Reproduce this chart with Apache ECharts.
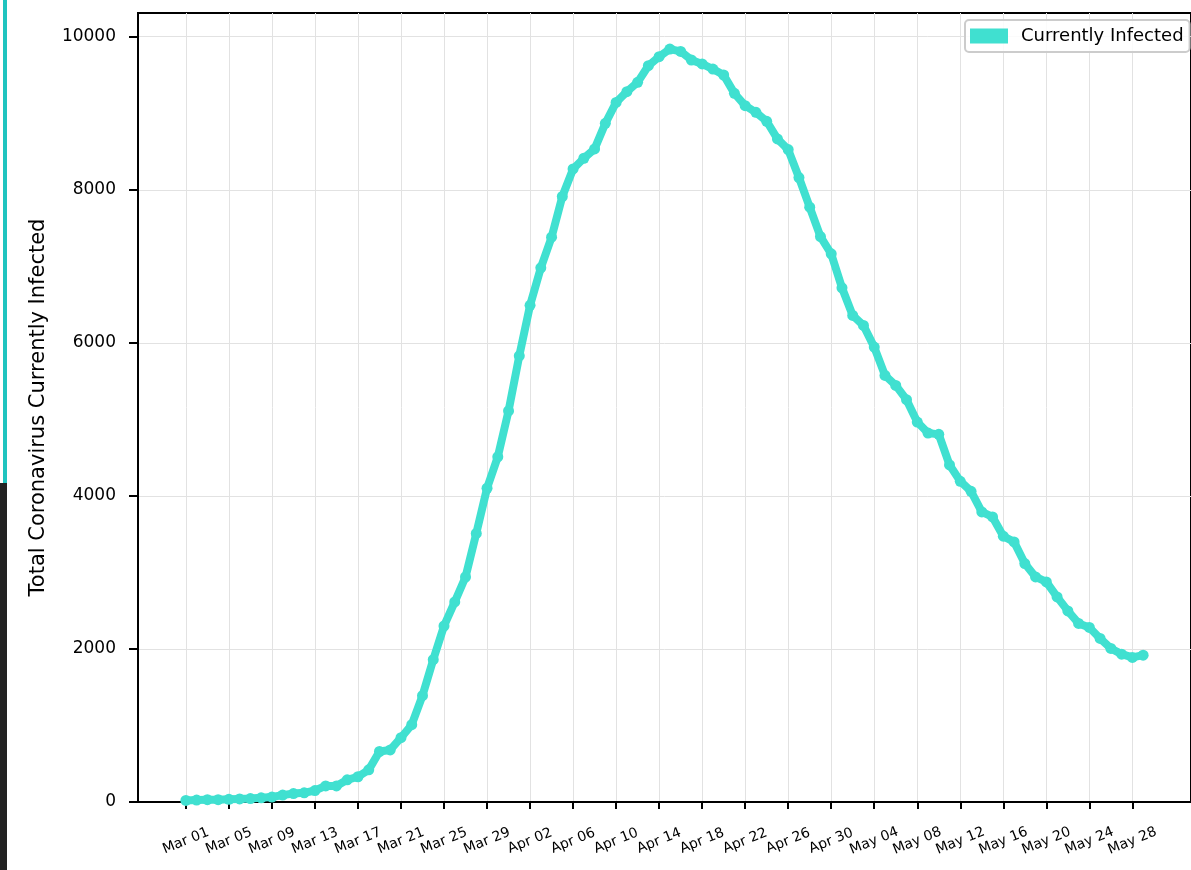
<!DOCTYPE html>
<html>
<head>
<meta charset="utf-8">
<script src="https://cdn.jsdelivr.net/npm/echarts@6/dist/echarts.min.js"></script>
<style>
html,body{margin:0;padding:0;background:#fff;}
#chart{width:1191px;height:870px;}
</style>
</head>
<body>
<div id="chart"></div>
<script>
// Day index 0 = Mar 01
const tickDays = [0,4,8,12,16,20,24,28,32,36,40,44,48,52,56,60,64,68,72,76,80,84,88];
const tickLabels = ['Mar 01','Mar 05','Mar 09','Mar 13','Mar 17','Mar 21','Mar 25','Mar 29',
  'Apr 02','Apr 06','Apr 10','Apr 14','Apr 18','Apr 22','Apr 26','Apr 30',
  'May 04','May 08','May 12','May 16','May 20','May 24','May 28'];
const yTicks = [0,2000,4000,6000,8000,10000];
const infected = [
  20,25,30,30,35,40,45,55,65,90,
  110,120,150,210,210,290,330,420,660,680,
  840,1010,1390,1860,2300,2615,2940,3510,4100,4510,
  5110,5830,6490,6980,7380,7912,8272,8412,8534,8868,
  9142,9282,9404,9621,9739,9839,9808,9696,9644,9578,
  9500,9260,9099,9012,8895,8665,8525,8160,7773,7389,
  7163,6719,6358,6227,5944,5574,5444,5257,4965,4821,
  4804,4405,4191,4060,3790,3725,3473,3399,3116,2941,
  2876,2680,2497,2333,2281,2137,2007,1932,1889,1919
];

const seriesData = infected.map((v, i) => [i, v]);
const FONT = 'DejaVu Sans';
const TEAL = '#40E0D0';

const chart = echarts.init(document.getElementById('chart'), null, {renderer: 'canvas'});
chart.setOption({
  backgroundColor: '#ffffff',
  animation: false,
  textStyle: {fontFamily: FONT},
  graphic: [
    {type: 'rect', shape: {x: 3, y: 0, width: 4, height: 483}, style: {fill: '#1fc4bf'}},
    {type: 'rect', shape: {x: 0, y: 483, width: 7, height: 387}, style: {fill: '#222222'}}
  ],
  grid: {
    left: 138, top: 13, bottom: 68, right: -10,
    show: true, borderColor: '#000', borderWidth: 2, backgroundColor: '#fff',
    containLabel: false
  },
  legend: {
    left: 965, top: 20,
    padding: [7, 6, 7, 5],
    itemWidth: 38, itemHeight: 15,
    icon: 'rect',
    borderColor: '#cccccc', borderWidth: 2, borderRadius: 4,
    backgroundColor: 'rgba(255,255,255,0.85)',
    textStyle: {fontFamily: FONT, fontSize: 18, color: '#000', padding: [0, 0, 0, 8]},
    data: ['Currently Infected']
  },
  xAxis: {
    type: 'value',
    min: -4.45, max: 93.45,
    axisLine: {show: true, onZero: false, lineStyle: {color: '#000', width: 2}},
    axisTick: {show: true, inside: false, length: 7, lineStyle: {color: '#000', width: 2}, customValues: tickDays},
    axisLabel: {
      show: true, customValues: tickDays,
      rotate: 22, align: 'center', verticalAlign: 'middle', margin: 39,
      fontFamily: FONT, fontSize: 14, color: '#000',
      formatter: function (v) {
        const k = tickDays.indexOf(Math.round(v));
        return k >= 0 ? tickLabels[k] : '';
      }
    },
    splitLine: {show: true, lineStyle: {color: '#e2e2e2', width: 1}}
  },
  yAxis: {
    type: 'value',
    min: 0, max: 10310,
    axisLine: {show: true, onZero: false, lineStyle: {color: '#000', width: 2}},
    axisTick: {show: true, inside: false, length: 9, lineStyle: {color: '#000', width: 2}, customValues: yTicks},
    axisLabel: {
      show: true, customValues: yTicks, margin: 22, fontFamily: FONT, fontSize: 17, color: '#000',
      formatter: function (v) { return String(v); }
    },
    splitLine: {show: true, lineStyle: {color: '#e2e2e2', width: 1}},
    name: 'Total Coronavirus Currently Infected',
    nameLocation: 'middle',
    nameGap: 89,
    nameTextStyle: {fontFamily: FONT, fontSize: 21, color: '#000'}
  },
  series: [{
    name: 'Currently Infected',
    type: 'line',
    data: seriesData,
    showSymbol: true,
    symbol: 'circle',
    symbolSize: 11,
    itemStyle: {color: TEAL},
    lineStyle: {color: TEAL, width: 8, cap: 'round', join: 'round'},
    emphasis: {disabled: true},
    z: 3
  }]
});
</script>
</body>
</html>
